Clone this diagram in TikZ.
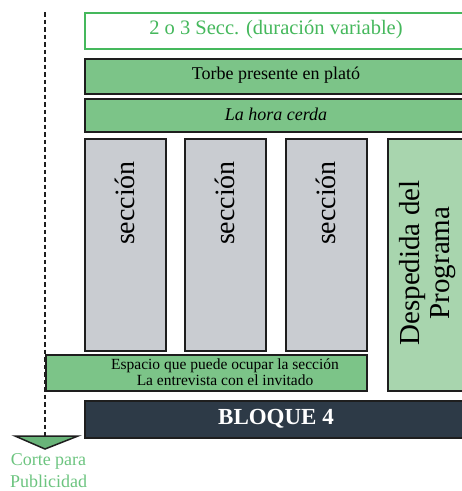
\documentclass[tikz,border=0pt]{standalone}
\usepackage{fontspec}
\setmainfont{Liberation Serif}
\definecolor{topgreen}{HTML}{45B85C}
\definecolor{midgreen}{HTML}{7CC488}
\definecolor{litegreen}{HTML}{A8D5AE}
\definecolor{secgray}{HTML}{C9CCD1}
\definecolor{darkbar}{HTML}{2D3A47}
\definecolor{cortegreen}{HTML}{6CC47F}
\definecolor{edge}{HTML}{1E1E1E}
\begin{document}
\begin{tikzpicture}[x=1pt,y=-1pt,
  blk/.style={draw=edge, line width=2pt, inner sep=0pt, anchor=north west},
  bar/.style={blk, fill=midgreen, font=\fontsize{18}{20}\selectfont},
  secbox/.style={blk, fill=secgray, minimum width=81pt, minimum height=212pt},
  sectext/.style={rotate=90, font=\fontsize{28}{30}\selectfont}
]
\useasboundingbox (0,0) rectangle (462,491);
\clip (0,0) rectangle (462,491);
% top box
\node[blk, draw=topgreen, fill=white, minimum width=381pt, minimum height=36pt] (top) at (84,12) {};
\node[text=topgreen, font=\fontsize{20.5}{22}\selectfont] (toptext) at (276,30) {2 o 3 Secc. (duración variable)};
% bars
\node[bar, minimum width=381pt, minimum height=35pt] (torbe) at (84,58) {};
\node[font=\fontsize{18}{20}\selectfont] (torbetext) at (276,75.5) {Torbe presente en plató};
\node[bar, minimum width=381pt, minimum height=33pt] (hora) at (84,98) {};
\node[font=\fontsize{18}{20}\selectfont\itshape] (horatext) at (276,114.5) {La hora cerda};
% sections
\node[secbox] (s1) at (84,138) {};
\node[secbox] (s2) at (184,138) {};
\node[secbox] (s3) at (285,138) {};
\node[sectext] (t1) at (124.5,203) {sección};
\node[sectext] (t2) at (224.5,203) {sección};
\node[sectext] (t3) at (325.5,203) {sección};
% despedida
\node[blk, fill=litegreen, minimum width=80pt, minimum height=252pt] (desp) at (387,138) {};
\node[rotate=90, align=center, font=\fontsize{29}{30}\selectfont] (desptext) at (428,263) {Despedida del\\Programa};
% espacio
\node[blk, fill=midgreen, minimum width=321pt, minimum height=36pt] (esp) at (45,354) {};
\node[align=center, font=\fontsize{15.5}{16}\selectfont] (esptext) at (225,372) {Espacio que puede ocupar la sección\\La entrevista con el invitado};
% bloque 4
\node[blk, fill=darkbar, minimum width=381pt, minimum height=37pt] (bloque) at (84,400) {};
\node[text=white, font=\fontsize{23}{24}\selectfont\bfseries] (bloquetext) at (276,418.5) {BLOQUE 4};
% corte
\coordinate (dtop) at (45,12);
\coordinate (tl) at (15,436);
\coordinate (tr) at (78,436);
\coordinate (tapex) at (45,449);
\coordinate (dbot) at (45,436);
\draw[edge, line width=2pt, dash pattern=on 4.5pt off 3pt] (dtop) -- (dbot);
\filldraw[fill=cortegreen!90!black!95, draw=edge, line width=1.5pt, line join=miter] (tl) -- (tr) -- (tapex) -- cycle;
\node[text=cortegreen, align=center, font=\fontsize{18}{22}\selectfont] (corte) at (48.5,471) {Corte para\\Publicidad};
\end{tikzpicture}
\end{document}
